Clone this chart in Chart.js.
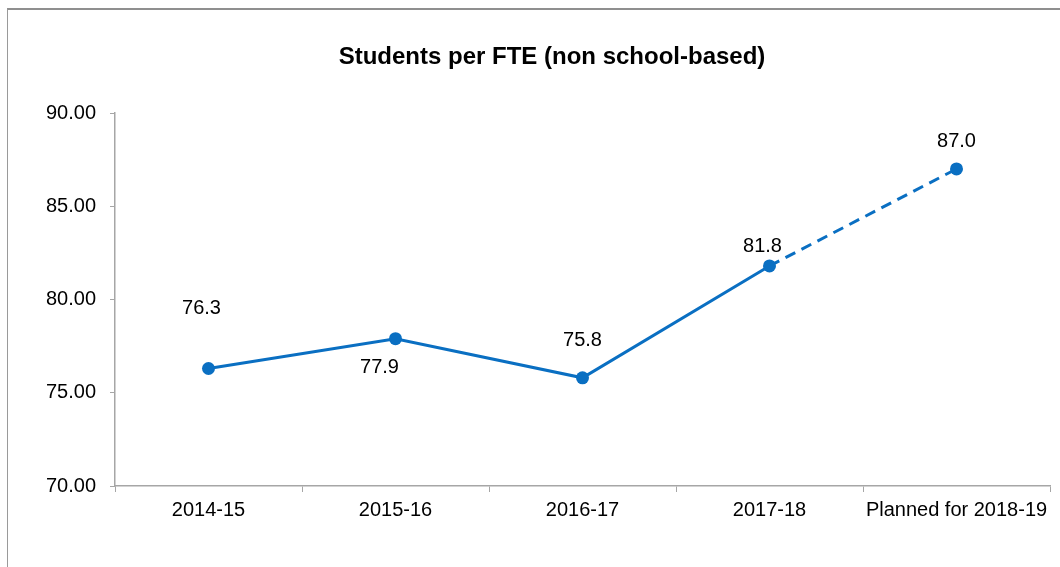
<!DOCTYPE html>
<html>
<head>
<meta charset="utf-8">
<script src="https://cdn.jsdelivr.net/npm/chart.js@4/dist/chart.umd.min.js"></script>
<style>
  html, body { margin: 0; padding: 0; background: #ffffff; }
  #wrap { position: relative; width: 1060px; height: 567px; overflow: hidden; }
  #frame { position: absolute; left: 7px; top: 8px; width: 1100px; height: 600px;
           border-top: 2px solid #8f8f8f; border-left: 1px solid #9a9a9a; box-sizing: border-box; }
  canvas { position: absolute; left: 0; top: 0; }
</style>
</head>
<body>
<div id="wrap">
  <div id="frame"></div>
  <canvas id="c" width="1060" height="567"></canvas>
</div>
<script>
// ---- data ----
const categories = ['2014-15', '2015-16', '2016-17', '2017-18', 'Planned for 2018-19'];
const studentsPerFTE = [76.3, 77.9, 75.8, 81.8, 87.0];
const valueLabels = ['76.3', '77.9', '75.8', '81.8', '87.0'];
const yTicks = [70, 75, 80, 85, 90];
const chartTitle = 'Students per FTE (non school-based)';

// ---- styling ----
const labelOffsets = [[-7, -60], [-16, 29], [0, -37], [-7, -19], [0, -27]];
const titlePos = { x: 552, y: 57 };
const blue = '#0a6fc2';
const axisGrey = '#a6a6a6';

const titlePlugin = {
  id: 'centredTitle',
  afterDraw(chart) {
    const ctx = chart.ctx;
    ctx.save();
    ctx.font = 'bold 24px "Liberation Sans", Arial, sans-serif';
    ctx.fillStyle = '#000000';
    ctx.textAlign = 'center';
    ctx.textBaseline = 'middle';
    ctx.fillText(chartTitle, titlePos.x, titlePos.y);
    ctx.restore();
  }
};

const valueLabelPlugin = {
  id: 'valueLabels',
  afterDatasetsDraw(chart) {
    const meta = chart.getDatasetMeta(0);
    const ctx = chart.ctx;
    ctx.save();
    ctx.font = '20px "Liberation Sans", Arial, sans-serif';
    ctx.fillStyle = '#000000';
    ctx.textAlign = 'center';
    ctx.textBaseline = 'middle';
    meta.data.forEach((pt, i) => {
      const off = labelOffsets[i];
      ctx.fillText(valueLabels[i], pt.x + off[0], pt.y + off[1]);
    });
    ctx.restore();
  }
};

new Chart(document.getElementById('c'), {
  type: 'line',
  data: {
    labels: categories,
    datasets: [{
      data: studentsPerFTE,
      borderColor: blue,
      backgroundColor: blue,
      borderWidth: 3,
      pointRadius: 6.5,
      pointHoverRadius: 6.5,
      pointBackgroundColor: blue,
      pointBorderColor: blue,
      pointBorderWidth: 0,
      tension: 0,
      segment: {
        borderDash: ctx => ctx.p1DataIndex === categories.length - 1 ? [11, 7] : undefined
      }
    }]
  },
  options: {
    responsive: false,
    animation: false,
    devicePixelRatio: 1,
    layout: { padding: { left: 0, right: 10, top: 113, bottom: 0 } },
    plugins: {
      legend: { display: false },
      tooltip: { enabled: false },
      title: { display: false }
    },
    scales: {
      x: {
        type: 'category',
        offset: true,
        afterFit(scale) { scale.height = 81; },
        grid: { display: true, offset: true, drawOnChartArea: false, drawTicks: true, tickLength: 6, color: axisGrey, lineWidth: 1 },
        border: { display: true, color: axisGrey, width: 1.5 },
        ticks: { color: '#000000', padding: 6, maxRotation: 0, autoSkip: false,
                 font: { family: '"Liberation Sans", Arial, sans-serif', size: 20 } }
      },
      y: {
        min: yTicks[0],
        max: yTicks[yTicks.length - 1],
        afterFit(scale) { scale.width = 115; },
        afterBuildTicks(scale) { scale.ticks = yTicks.map(v => ({ value: v })); },
        grid: { display: true, drawOnChartArea: false, drawTicks: true, tickLength: 5, color: axisGrey, lineWidth: 1 },
        border: { display: true, color: axisGrey, width: 1.5 },
        ticks: { color: '#000000', padding: 14,
                 callback: v => Number(v).toFixed(2),
                 font: { family: '"Liberation Sans", Arial, sans-serif', size: 20 } }
      }
    }
  },
  plugins: [valueLabelPlugin, titlePlugin]
});
</script>
</body>
</html>
